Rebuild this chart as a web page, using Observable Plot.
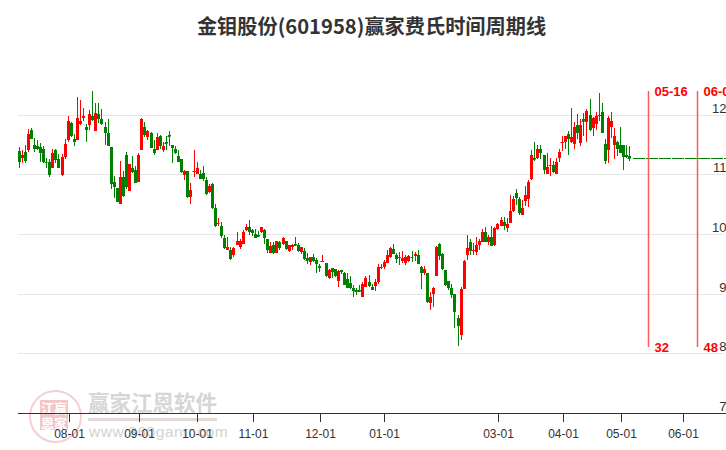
<!DOCTYPE html>
<html><head><meta charset="utf-8">
<script src="https://cdn.jsdelivr.net/npm/d3@7"></script>
<script src="https://cdn.jsdelivr.net/npm/@observablehq/plot@0.6"></script>
<style>
html,body{margin:0;padding:0;background:#fff;overflow:hidden}
#wrap{position:relative;width:726px;height:450px;overflow:hidden}
#title{position:absolute;left:0;top:0;width:726px;height:46px;padding-left:17px;box-sizing:border-box;text-align:center;font:bold 20.2px/52px "Noto Sans CJK SC";color:#333}
#chart{position:absolute;left:0;top:46px}
#chart svg{background:transparent}
.wm{position:absolute;white-space:nowrap}
</style></head><body>
<div id="wrap">
<div id="title">金钼股份(601958)赢家费氏时间周期线</div>
<div class="wm" style="left:29px;top:390px;width:49px;height:49px;border:2px solid #f4d0d0;border-radius:50%"></div>
<div class="wm" style="left:40px;top:400px;width:28px;height:30px;background:#f1c8c8;color:#fff;font:bold 13px/15px 'Noto Sans CJK SC';text-align:center">江赢<br>恩家</div>
<div class="wm" style="left:88px;top:388px;font:bold 21.5px/28px 'Noto Sans CJK SC';color:#d6d6d6">赢家江恩软件</div>
<div class="wm" style="left:88px;top:418px;width:129px;height:3px;background:#e2d8d8"></div>
<div class="wm" style="left:89px;top:422px;font:15.5px/20px 'Liberation Sans';letter-spacing:.55px;color:#d2d2d2">www.360gann.com</div>
<div id="chart"></div>
</div>
<script>
const opens=[11.39,11.28,11.38,11.40,11.74,11.49,11.47,11.46,11.43,11.21,11.20,11.10,11.41,11.25,10.99,11.29,11.58,11.86,11.59,11.58,11.84,11.94,11.80,11.82,11.98,11.73,12.02,11.93,11.80,11.69,
11.46,10.87,10.77,10.51,10.95,11.33,10.72,11.10,11.08,10.88,11.40,11.80,11.62,11.70,11.42,11.40,11.64,11.40,11.54,11.66,11.49,11.43,11.31,11.26,10.99,11.05,10.62,11.04,11.01,11.00,
11.02,10.91,10.71,10.84,10.43,10.18,10.14,9.94,9.74,9.74,9.64,9.81,9.78,9.84,10.07,10.12,10.07,10.00,9.98,10.03,10.07,9.92,9.69,9.82,9.69,9.87,9.83,9.88,9.71,9.79,
9.83,9.82,9.70,9.72,9.59,9.53,9.62,9.57,9.47,9.53,9.52,9.26,9.43,9.42,9.22,9.40,9.35,9.25,9.18,9.10,9.07,9.07,8.94,9.12,9.20,9.12,9.13,9.19,9.45,9.44,
9.51,9.61,9.75,9.65,9.59,9.54,9.52,9.55,9.62,9.63,9.64,9.45,9.35,9.34,8.84,8.99,9.29,9.84,9.67,9.40,9.21,9.10,9.00,8.60,8.30,9.08,9.64,9.86,9.72,9.70,
9.81,9.87,10.04,9.86,9.95,9.81,10.08,10.14,10.20,10.10,10.18,10.38,10.68,10.59,10.32,10.55,10.58,10.92,11.28,11.28,11.43,11.33,11.01,11.15,11.16,11.01,11.27,11.53,11.54,11.68,
11.54,11.51,11.82,11.52,11.92,11.88,11.99,11.77,11.84,11.98,12.05,11.51,11.41,11.79,11.49,11.55,11.49,11.50,11.33,11.30];
const closes=[11.20,11.33,11.23,11.68,11.60,11.42,11.43,11.35,11.20,11.20,10.99,11.35,11.24,11.11,11.29,11.51,11.90,11.65,11.55,11.95,11.89,11.98,11.74,12.02,11.91,12.03,11.93,11.85,11.69,11.47,
10.84,10.79,10.54,10.95,10.64,10.79,11.17,11.04,10.86,11.33,11.92,11.66,11.73,11.44,11.36,11.63,11.47,11.48,11.53,11.65,11.45,11.35,11.21,11.04,11.05,10.62,10.74,11.06,11.11,10.93,
10.93,10.67,10.81,10.44,10.13,10.19,9.96,9.76,9.79,9.58,9.77,9.89,9.89,10.04,10.12,10.03,10.02,9.94,9.97,10.11,9.94,9.73,9.80,9.68,9.88,9.76,9.94,9.75,9.82,9.82,
9.82,9.71,9.78,9.58,9.57,9.62,9.54,9.49,9.43,9.55,9.29,9.40,9.36,9.29,9.38,9.37,9.14,9.10,9.09,9.04,9.05,9.05,9.17,9.27,9.13,9.07,9.20,9.45,9.44,9.53,
9.65,9.76,9.67,9.58,9.62,9.59,9.61,9.63,9.61,9.67,9.49,9.35,9.41,8.86,8.95,9.10,9.79,9.63,9.41,9.14,9.10,8.97,8.70,8.45,9.08,9.55,9.77,9.72,9.74,9.82,
9.89,10.04,9.86,9.95,9.80,10.10,10.16,10.23,10.13,10.16,10.38,10.58,10.60,10.35,10.44,10.65,10.88,11.33,11.25,11.42,11.36,11.07,11.12,11.16,11.04,11.20,11.38,11.55,11.64,11.60,
11.63,11.80,11.69,11.83,11.90,12.07,11.75,11.95,11.98,11.99,11.69,11.23,11.95,11.90,11.65,11.43,11.36,11.29,11.29,11.28];
const highs=[11.46,11.41,11.49,11.76,11.78,11.61,11.58,11.52,11.48,11.27,11.25,11.42,11.43,11.34,11.34,11.60,11.97,11.87,11.68,12.29,12.25,12.12,11.85,12.08,12.39,12.19,12.19,12.10,11.88,11.93,
11.46,10.97,10.77,11.22,11.06,11.38,11.17,11.31,11.14,11.36,11.95,11.88,11.75,11.71,11.58,11.70,11.66,11.55,11.65,11.73,11.49,11.48,11.40,11.26,11.07,11.05,10.85,11.41,11.21,11.07,
11.14,10.95,10.84,10.85,10.50,10.27,10.20,9.99,9.95,9.79,9.78,10.03,9.92,10.07,10.17,10.24,10.09,10.08,10.05,10.12,10.09,9.92,9.87,9.87,9.88,9.88,9.95,9.89,9.82,9.84,
9.95,9.85,9.79,9.77,9.69,9.62,9.67,9.60,9.49,9.65,9.52,9.42,9.43,9.42,9.39,9.40,9.37,9.34,9.30,9.15,9.10,9.15,9.20,9.30,9.32,9.16,9.24,9.50,9.49,9.57,
9.73,9.78,9.84,9.69,9.70,9.71,9.65,9.65,9.71,9.70,9.74,9.47,9.47,9.34,9.02,9.12,9.80,9.85,9.69,9.40,9.21,9.17,9.00,8.65,9.11,9.57,9.99,9.91,9.85,9.95,
9.91,10.08,10.12,9.98,10.14,10.11,10.19,10.28,10.28,10.27,10.65,10.63,10.75,10.62,10.57,10.80,10.90,11.40,11.55,11.49,11.50,11.33,11.36,11.27,11.23,11.28,11.42,11.65,11.65,11.73,
12.12,11.87,12.01,11.92,12.03,12.09,12.26,11.96,12.04,12.36,12.19,11.60,11.97,12.05,11.77,11.56,11.79,11.50,11.50,11.47];
const lows=[11.11,11.19,11.19,11.37,11.59,11.37,11.41,11.20,11.19,11.11,10.96,11.10,11.19,11.10,10.98,11.26,11.54,11.63,11.48,11.58,11.83,11.90,11.54,11.75,11.90,11.72,11.86,11.83,11.49,11.47,
10.76,10.61,10.54,10.51,10.62,10.76,10.72,11.03,10.86,10.88,11.40,11.63,11.57,11.44,11.33,11.40,11.43,11.37,11.41,11.47,11.19,11.34,11.21,11.02,10.90,10.61,10.50,10.95,11.00,10.92,
10.89,10.66,10.69,10.42,10.12,10.14,9.94,9.75,9.74,9.56,9.62,9.81,9.75,9.84,10.05,9.98,9.96,9.94,9.96,10.02,9.84,9.68,9.69,9.67,9.69,9.73,9.82,9.74,9.70,9.73,
9.82,9.70,9.66,9.56,9.49,9.48,9.53,9.34,9.37,9.53,9.28,9.24,9.27,9.28,9.12,9.33,9.14,9.09,9.08,8.94,8.97,9.04,8.94,9.12,9.12,9.07,9.04,9.17,9.42,9.42,
9.51,9.60,9.66,9.52,9.48,9.52,9.48,9.53,9.53,9.55,9.49,9.08,9.31,8.84,8.73,8.78,9.29,9.56,9.40,9.13,9.07,8.93,8.43,8.12,8.23,9.08,9.57,9.65,9.65,9.65,
9.74,9.87,9.86,9.82,9.80,9.80,10.06,10.13,10.07,10.04,10.18,10.37,10.49,10.32,10.32,10.47,10.45,10.91,11.23,11.25,11.25,11.00,11.00,10.98,11.03,11.00,11.20,11.39,11.43,11.32,
11.53,11.43,11.59,11.47,11.64,11.55,11.73,11.64,11.75,11.89,11.69,11.18,11.19,11.61,11.25,11.31,11.35,11.08,11.28,11.22];
const flatPrice=[11.27];
const flatRange=[200,230.5];
const tickIndex=[16.43,39.25,58.13,76.37,98.2,119.1,156.2,177.3,196.3,216.4];
const tickLabels=["08-01","09-01","10-01","11-01","12-01","01-01","03-01","04-01","05-01","06-01"];
const priceTicks=[7,8,9,10,11,12];
const cycleIndex=[205,221];
const cycleDates=["05-16","06-07"];
const cycleCounts=["32","48"];
const cycleTop=12.39, cycleBottom=8.11;

const candles=opens.map((o,i)=>({i,o,c:closes[i],h:highs[i],l:lows[i]}));
const col=d=>d.c>=d.o?"#ff0000":"#008000";
const cyc=cycleIndex.map((x,k)=>({x,date:cycleDates[k],count:cycleCounts[k]}));
const doji=candles.filter(d=>Math.abs(d.c-d.o)<0.03);

const chart=Plot.plot({
  width:726,height:404,marginLeft:0,marginRight:0,marginTop:0,marginBottom:37,
  x:{domain:[-6.042,230.44],range:[0,726],round:true},
  y:{domain:[7,12],range:[367,68.7],round:true,axis:null},
  style:{background:"transparent"},
  marks:[
    Plot.ruleY(priceTicks.slice(1),{x1:-0.18,x2:229.8,stroke:"#e6e6e6",strokeWidth:1}),
    Plot.ruleX(candles,{x:"i",y1:"l",y2:"h",stroke:col,strokeWidth:1}),
    Plot.ruleX(candles,{x:"i",y1:"o",y2:"c",stroke:col,strokeWidth:3}),
    Plot.ruleY(doji,{x1:d=>d.i-0.327,x2:d=>d.i+0.327,y:"c",stroke:col,strokeWidth:1,strokeLinecap:"square"}),
    Plot.ruleY(flatPrice,{x1:flatRange[0],x2:flatRange[1],stroke:"#008000",strokeWidth:1,strokeDasharray:"12,1"}),
    Plot.ruleX(cyc,{x:"x",y1:cycleBottom,y2:cycleTop,stroke:"#ff5a5a",strokeWidth:1.5}),
    Plot.text(cyc,{x:"x",y:cycleTop,text:"date",dx:6,textAnchor:"start",fill:"#ff0000",fontWeight:"bold",fontSize:13,fontFamily:"Liberation Sans"}),
    Plot.text(cyc,{x:"x",y:cycleBottom,text:"count",dx:6,textAnchor:"start",fill:"#ff0000",fontWeight:"bold",fontSize:13,fontFamily:"Liberation Sans"}),
    Plot.text(priceTicks,{y:d=>d,frameAnchor:"right",text:d=>String(d),dy:-7,textAnchor:"end",fill:"#333",fontSize:13,fontFamily:"Liberation Sans"}),
    Plot.ruleY([7],{x1:-0.18,x2:230.44,stroke:"#333",strokeWidth:1}),
    Plot.axisX({ticks:tickIndex,tickFormat:(d,i)=>tickLabels[tickIndex.indexOf(d)],tickSize:9,tickPadding:7,label:null,fontSize:12,fontFamily:"Liberation Sans",color:"#333",stroke:"#333"})
  ]
});
document.getElementById("chart").appendChild(chart);
</script>
</body></html>
